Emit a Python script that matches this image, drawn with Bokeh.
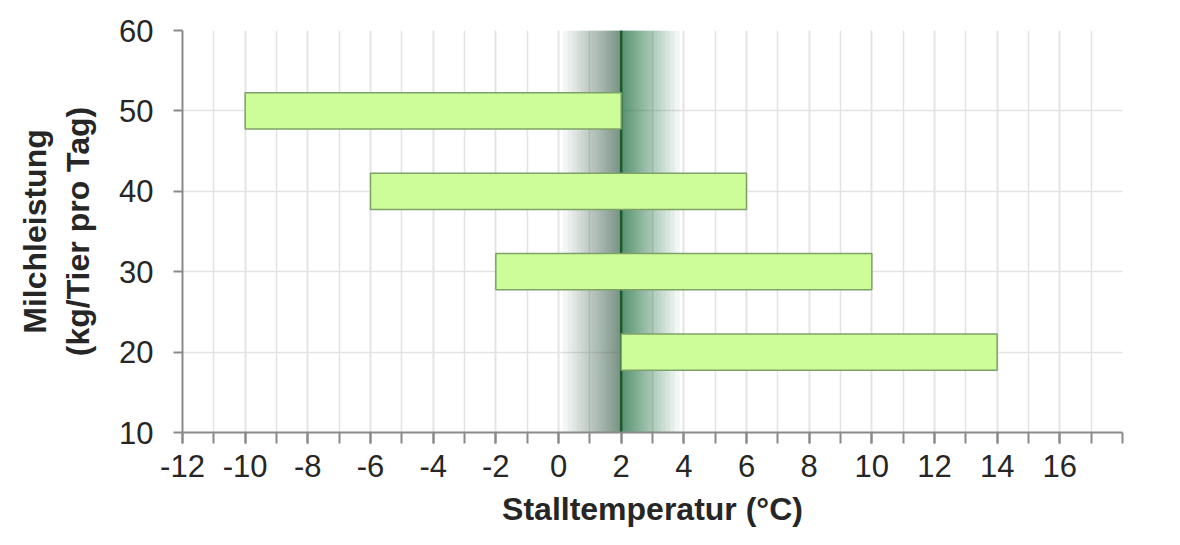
from bokeh.plotting import figure
from bokeh.models import Range1d, FixedTicker, CustomJSTickFormatter
from bokeh.embed import file_html
from bokeh.resources import INLINE
import numpy as np

# --- data ---
milk_yield = [50, 40, 30, 20]          # kg/Tier pro Tag
temp_low = [-10, -6, -2, 2]            # Stalltemperatur lower bound (°C)
temp_high = [2, 6, 10, 14]             # Stalltemperatur upper bound (°C)
optimum_temp = 2                       # dark vertical line
x_major_ticks = [-12, -10, -8, -6, -4, -2, 0, 2, 4, 6, 8, 10, 12, 14, 16]
x_minor_ticks = list(range(-12, 19))
y_ticks = [10, 20, 30, 40, 50, 60]

X_MIN, X_MAX = -12, 18
Y_MIN, Y_MAX = 10, 60
FONT = "Liberation Sans"

p = figure(width=1164, height=529, output_backend="svg", toolbar_location=None,
           x_range=Range1d(X_MIN, X_MAX), y_range=Range1d(Y_MIN, Y_MAX),
           min_border_left=182, min_border_right=42, min_border_top=30,
           min_border_bottom=96)
p.outline_line_color = None
p.background_fill_color = "white"
p.border_fill_color = "white"

# gradient band around the optimum (nested translucent quads -> smooth fade)
band_half = 1.95
steps = 22
omax = 0.78
a = 1 - (1 - omax) ** (1.0 / steps)
for k in range(1, steps + 1):
    o = 1 - (1 - a) ** (k - 0.5)
    d = band_half * (1 - o / omax)
    p.quad(left=optimum_temp - d, right=optimum_temp, bottom=Y_MIN, top=Y_MAX,
           fill_color="#557f6c", fill_alpha=a, line_color=None)
    p.quad(left=optimum_temp, right=optimum_temp + d, bottom=Y_MIN, top=Y_MAX,
           fill_color="#2e7a4e", fill_alpha=a, line_color=None)

p.segment(x0=[optimum_temp], y0=[Y_MIN], x1=[optimum_temp], y1=[Y_MAX],
          line_color="#1b5a2c", line_width=2.5)

# bars
p.hbar(y=milk_yield, left=temp_low, right=temp_high, height=4.5,
       fill_color="#ccfd98", line_color="#7fa168", line_width=1.5)

# axes
fmt = CustomJSTickFormatter(code="return tick.toString();")
p.xaxis.ticker = FixedTicker(ticks=x_major_ticks, minor_ticks=x_minor_ticks)
p.yaxis.ticker = FixedTicker(ticks=y_ticks)
for ax in (p.xaxis, p.yaxis):
    ax.formatter = fmt
    ax.axis_line_color = "#8a8a8a"
    ax.axis_line_width = 2
    ax.major_tick_line_color = "#8a8a8a"
    ax.major_tick_line_width = 2
    ax.minor_tick_line_color = "#8a8a8a"
    ax.minor_tick_line_width = 2
    ax.major_tick_in = 0
    ax.minor_tick_in = 0
    ax.major_label_text_font = FONT
    ax.major_label_text_font_size = "31px"
    ax.major_label_text_color = "#262626"
    ax.axis_label_text_font = FONT
    ax.axis_label_text_font_style = "bold"
    ax.axis_label_text_font_size = "32px"
    ax.axis_label_text_color = "#262626"

p.xaxis.major_tick_out = 11
p.xaxis.minor_tick_out = 11
p.xaxis.major_label_standoff = 11
p.xaxis.axis_label = "Stalltemperatur (°C)"
p.xaxis.axis_label_standoff = 11

p.yaxis.major_tick_out = 9
p.yaxis.minor_tick_out = 0
p.yaxis.major_label_standoff = 20
p.yaxis.axis_label = "Milchleistung\n(kg/Tier pro Tag)"
p.yaxis.axis_label_standoff = 20

# grid
p.xgrid.grid_line_color = "#e3e3e3"
p.xgrid.minor_grid_line_color = "#e3e3e3"
p.xgrid.grid_line_width = 1.5
p.xgrid.minor_grid_line_width = 1.5
p.ygrid.grid_line_color = "#e3e3e3"
p.ygrid.grid_line_width = 1.5

open("out.html", "w").write(file_html(p, INLINE))
